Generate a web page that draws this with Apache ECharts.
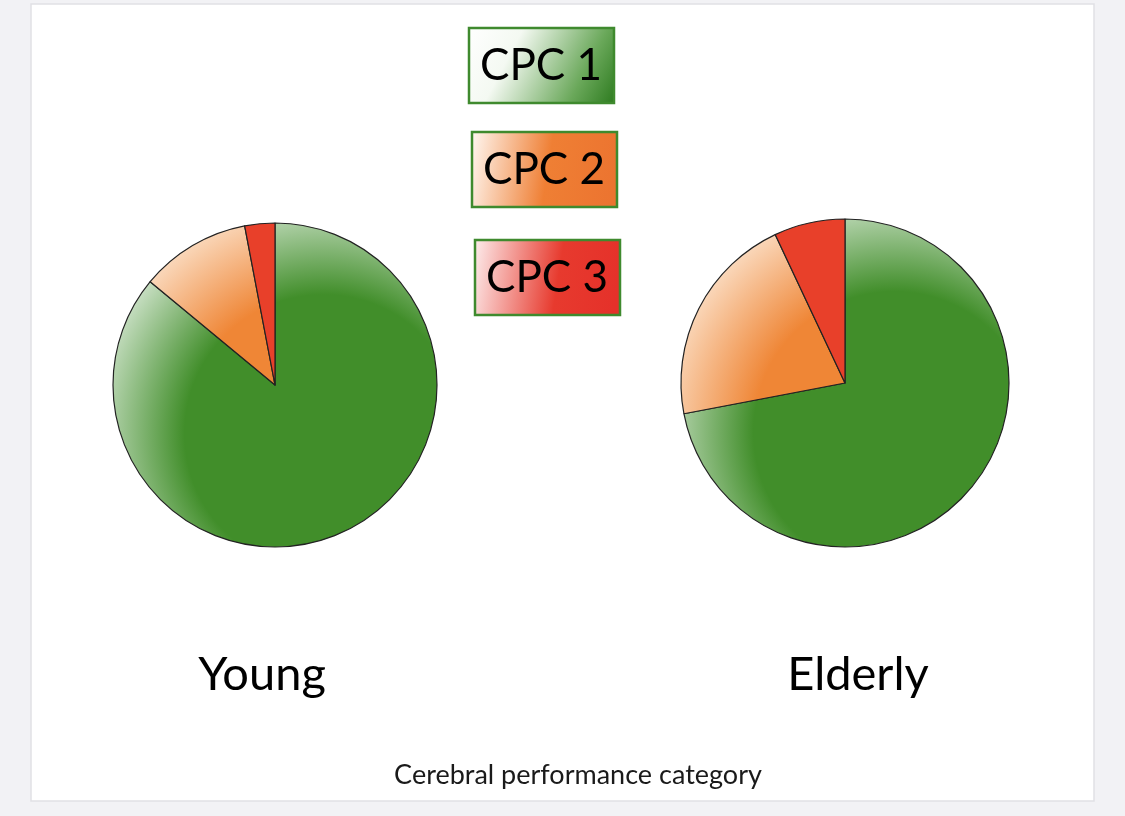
<!DOCTYPE html>
<html>
<head>
<meta charset="utf-8">
<title>Cerebral performance category</title>
<script src="https://cdn.jsdelivr.net/npm/echarts@6/dist/echarts.min.js"></script>
<style>
  html, body { margin: 0; padding: 0; background: #f2f2f5; }
  #chart { width: 1125px; height: 816px; }
</style>
</head>
<body>
<div id="chart"></div>
<script>
// 数据
const categories = ["CPC 1", "CPC 2", "CPC 3"];
const groups = ["Young", "Elderly"];
const youngValues = [86, 11, 3];
const elderlyValues = [72, 21, 7];
const axisTitle = "Cerebral performance category";

// 颜色 (深色, 边缘浅色)
const darkColors = ["#418e2a", "#ef8636", "#e8402a"];
const lightColors = ["#c8dfc3", "#fad8bb", "#e8402a"];

const chart = echarts.init(document.getElementById("chart"));

// 饼图高光：左上边缘变浅
function sliceColor(i, cx, cy, r) {
  if (i === 2) return darkColors[i];
  return new echarts.graphic.RadialGradient(cx + 0.3 * r, cy + 0.3 * r, 1.43 * r, [
    { offset: 0, color: darkColors[i] },
    { offset: 0.6, color: darkColors[i] },
    { offset: 1, color: lightColors[i] },
  ], true);
}

function pieSeries(name, values, cx, cy, r) {
  return {
    name: name,
    type: "pie",
    center: [cx, cy],
    radius: r,
    startAngle: 90,
    clockwise: true,
    silent: true,
    label: { show: false },
    labelLine: { show: false },
    itemStyle: { borderColor: "#222", borderWidth: 1.2 },
    data: categories.map((c, i) => ({
      name: c,
      value: values[i],
      itemStyle: { color: sliceColor(i, cx, cy, r) },
    })),
  };
}

// 图例方框
const boxFills = [
  new echarts.graphic.LinearGradient(0, 0, 1, 1, [
    { offset: 0, color: "#ffffff" },
    { offset: 0.3, color: "#f4f9f2" },
    { offset: 0.75, color: "#6aa85a" },
    { offset: 1, color: "#2c7a1e" },
  ]),
  new echarts.graphic.LinearGradient(0, 0, 1, 0.3, [
    { offset: 0, color: "#fff9f4" },
    { offset: 0.55, color: "#ef7f34" },
    { offset: 1, color: "#ec7430" },
  ]),
  new echarts.graphic.LinearGradient(0, 0, 1, 0.3, [
    { offset: 0, color: "#fdeeee" },
    { offset: 0.6, color: "#e73a2e" },
    { offset: 1, color: "#e5312a" },
  ]),
];
const boxPos = [[469, 28], [472, 132], [475, 240]];

const legendBoxes = categories.map((c, i) => ({
  type: "group",
  x: boxPos[i][0],
  y: boxPos[i][1],
  children: [
    {
      type: "rect",
      shape: { x: 0, y: 0, width: 145, height: 75 },
      style: { fill: boxFills[i], stroke: "#3f8a2e", lineWidth: 2.5 },
    },
    {
      type: "text",
      style: {
        text: c,
        x: 72,
        y: 38,
        align: "center",
        verticalAlign: "middle",
        font: "44px Lato",
        fill: "#000",
      },
    },
  ],
}));

const option = {
  backgroundColor: "#f2f2f5",
  animation: false,
  title: [
    {
      text: groups[0],
      left: 257,
      top: 646,
      textAlign: "center",
      textStyle: { fontFamily: "Lato", fontSize: 47, fontWeight: "normal", color: "#000" },
    },
    {
      text: groups[1],
      left: 853,
      top: 646,
      textAlign: "center",
      textStyle: { fontFamily: "Lato", fontSize: 47, fontWeight: "normal", color: "#000" },
    },
    {
      text: axisTitle,
      left: 573,
      top: 757,
      textAlign: "center",
      textStyle: { fontFamily: "Lato", fontSize: 27, fontWeight: "normal", color: "#1a1a1a" },
    },
  ],
  graphic: [
    {
      type: "rect",
      z: -10,
      silent: true,
      shape: { x: 31, y: 4, width: 1063, height: 797 },
      style: { fill: "#ffffff", stroke: "#e1e1e5", lineWidth: 1.5 },
    },
  ].concat(legendBoxes),
  series: [
    pieSeries(groups[0], youngValues, 275, 385, 162),
    pieSeries(groups[1], elderlyValues, 845, 383, 164),
  ],
};
chart.setOption(option);
</script>
</body>
</html>
